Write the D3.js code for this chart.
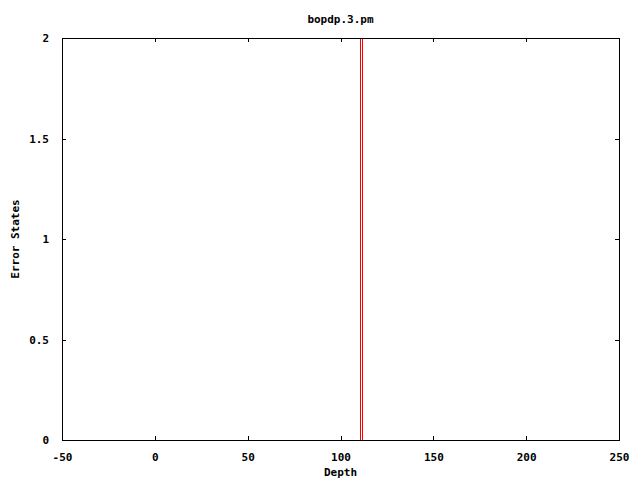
<!DOCTYPE html>
<html>
<head>
<meta charset="utf-8">
<script src="https://cdn.jsdelivr.net/npm/d3@7"></script>
<style>
  body { margin: 0; background: #fff; }
  text { font-family: "DejaVu Sans Mono", "Liberation Mono", monospace; font-weight: bold; font-size: 11px; fill: #000; }
</style>
</head>
<body>
<svg id="chart" width="640" height="480"></svg>
<script>
// Data
const title = "bopdp.3.pm";
const xLabel = "Depth";
const yLabel = "Error States";
const xTicks = [-50, 0, 50, 100, 150, 200, 250];
const yTicks = [0, 0.5, 1, 1.5, 2];
// error state spikes: depth where state jumps, and its range
const spikeDepths = [111, 112];
const spikeStates = [0, 2];

const margin = { top: 38, right: 21, bottom: 40, left: 62 };
const width = 640 - margin.left - margin.right;
const height = 480 - margin.top - margin.bottom;

const svg = d3.select("#chart");
const g = svg.append("g").attr("transform", `translate(${margin.left},${margin.top})`);

const x = d3.scaleLinear().domain([-50, 250]).range([0, width]);
const y = d3.scaleLinear().domain([0, 2]).range([height, 0]);

// Axes with inward ticks, mirrored
const fmt = d => String(d);
const axBottom = g.append("g").attr("transform", `translate(0,${height})`)
    .call(d3.axisBottom(x).tickValues(xTicks).tickSizeInner(-4).tickSizeOuter(0).tickPadding(13).tickFormat(fmt));
const axTop = g.append("g")
    .call(d3.axisTop(x).tickValues(xTicks).tickSizeInner(-4).tickSizeOuter(0).tickFormat(""));
const axLeft = g.append("g")
    .call(d3.axisLeft(y).tickValues(yTicks).tickSizeInner(-4).tickSizeOuter(0).tickPadding(13).tickFormat(fmt));
const axRight = g.append("g").attr("transform", `translate(${width},0)`)
    .call(d3.axisRight(y).tickValues(yTicks).tickSizeInner(-4).tickSizeOuter(0).tickFormat(""));

[axBottom, axTop, axLeft, axRight].forEach(a => {
    a.selectAll("path").remove();
    a.selectAll("line").attr("stroke", "#000").attr("shape-rendering", "crispEdges");
    a.selectAll("text")
        .style("font-family", "'DejaVu Sans Mono', monospace")
        .style("font-weight", "bold")
        .style("font-size", "11px")
        .attr("fill", "#000");
});

// Border
g.append("rect")
    .attr("x", 0.5).attr("y", 0.5)
    .attr("width", width).attr("height", height)
    .attr("fill", "none")
    .attr("stroke", "#000")
    .attr("shape-rendering", "crispEdges");

// Spikes, inside the frame
spikeDepths.forEach(d => {
    g.append("line")
        .attr("x1", Math.floor(x(d)) + 0.5).attr("x2", Math.floor(x(d)) + 0.5)
        .attr("y1", y(spikeStates[0])).attr("y2", y(spikeStates[1]) + 1)
        .attr("stroke", "#ff0000")
        .attr("stroke-width", 1);
});

// Title and axis labels
svg.append("text")
    .attr("x", margin.left + width / 2)
    .attr("y", 23)
    .attr("text-anchor", "middle")
    .text(title);

svg.append("text")
    .attr("x", margin.left + width / 2)
    .attr("y", 476)
    .attr("text-anchor", "middle")
    .text(xLabel);

svg.append("text")
    .attr("transform", `translate(19,${margin.top + height / 2}) rotate(-90)`)
    .attr("text-anchor", "middle")
    .text(yLabel);
</script>
</body>
</html>
